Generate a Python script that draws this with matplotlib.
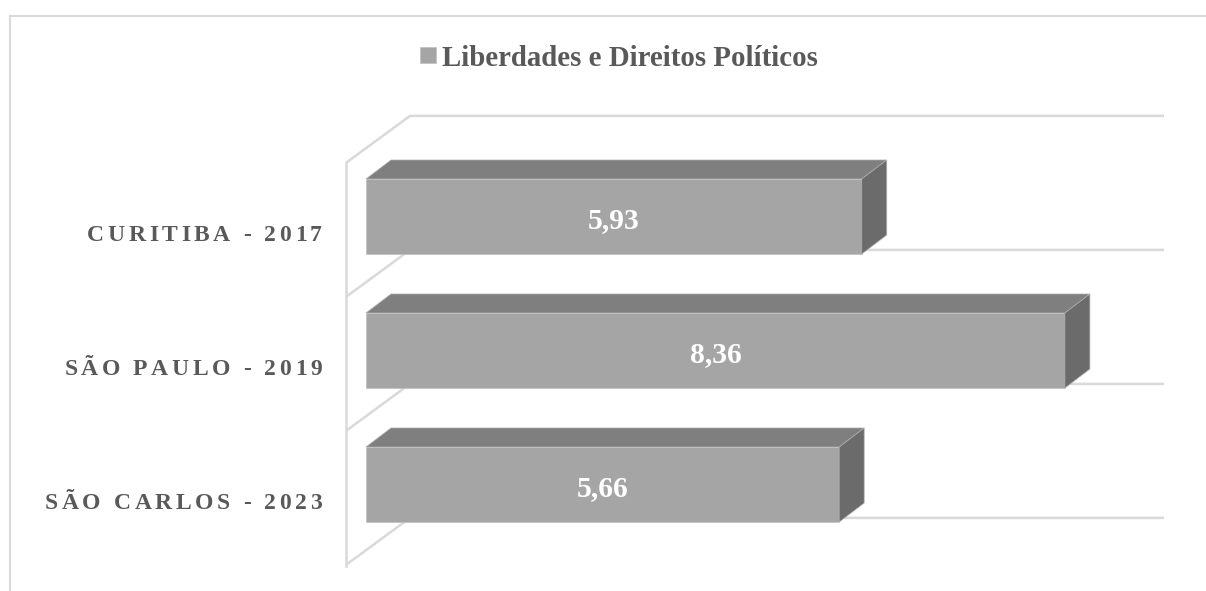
import matplotlib
matplotlib.use('Agg')
import matplotlib.pyplot as plt
from matplotlib.patches import Polygon
from matplotlib.lines import Line2D
from matplotlib.font_manager import FontProperties

# ---- data ----
categories = ['CURITIBA - 2017', 'SÃO PAULO - 2019', 'SÃO CARLOS - 2023']
values = [5.93, 8.36, 5.66]
value_labels = ['5,93', '8,36', '5,66']
series_name = 'Liberdades e Direitos Políticos'

# ---- geometry / style ----
W, H, DPI = 1206, 591, 100
PX_X = 83.6      # pixels per value unit
PX_Y = 134.0     # pixels per category step
X0, Y0 = 366.0, 216.5   # pixel of value 0 / first category centre
BAR_H = 0.56
BAR_DX, BAR_DY = 25 / PX_X, -19 / PX_Y
WALL_DX, WALL_DY = 64 / PX_X, -47 / PX_Y
WALL_FRONT_X = (346 - X0) / PX_X
GRID_END_X = (1164 - X0) / PX_X
FRONT_C, TOP_C, SIDE_C = '#A5A5A5', '#7F7F7F', '#6B6B6B'
GRID_C = '#D9D9D9'
TXT_C = '#595959'
SERIF = ['Liberation Serif', 'DejaVu Serif']

fig = plt.figure(figsize=(W / DPI, H / DPI), dpi=DPI)
ax = fig.add_axes([0, 0, 1, 1])
ax.set_xlim(-X0 / PX_X, (W - X0) / PX_X)
ax.set_ylim((H - Y0) / PX_Y, -Y0 / PX_Y)
ax.axis('off')

# outer frame
fx, fy = 9.5 / W, 1 - 15.5 / H
fig.add_artist(Line2D([fx, fx], [0, fy], color=GRID_C, lw=1.5))
fig.add_artist(Line2D([fx, 1], [fy, fy], color=GRID_C, lw=1.5))

# walls / gridlines
n = len(categories)
bounds = [k - 0.4 for k in range(n + 1)]
for b in bounds:
    bx, by = WALL_FRONT_X + WALL_DX, b + WALL_DY
    ax.plot([WALL_FRONT_X, bx, GRID_END_X], [b, by, by], color=GRID_C, lw=1.8,
            zorder=1, solid_capstyle='butt')
ax.plot([WALL_FRONT_X, WALL_FRONT_X], [bounds[0], bounds[-1] + 0.01], color=GRID_C,
        lw=1.8, zorder=1)

# bars with 3D faces
ypos = list(range(n))
ax.barh(ypos, values, height=BAR_H, color=FRONT_C, zorder=3, label=series_name,
        edgecolor='#C0C0C0', linewidth=0.5)
for y, v in zip(ypos, values):
    top = [(0, y - BAR_H / 2), (v, y - BAR_H / 2),
           (v + BAR_DX, y - BAR_H / 2 + BAR_DY), (BAR_DX, y - BAR_H / 2 + BAR_DY)]
    side = [(v, y - BAR_H / 2), (v + BAR_DX, y - BAR_H / 2 + BAR_DY),
            (v + BAR_DX, y + BAR_H / 2 + BAR_DY), (v, y + BAR_H / 2)]
    ax.add_patch(Polygon(top, closed=True, facecolor=TOP_C, edgecolor='#B0B0B0',
                         lw=0.5, zorder=3))
    ax.add_patch(Polygon(side, closed=True, facecolor=SIDE_C, edgecolor='#B0B0B0',
                         lw=0.5, zorder=3))

# value labels
for y, v, lab in zip(ypos, values, value_labels):
    ax.text(v / 2, y + 1 / PX_Y, lab, ha='center', va='center_baseline', color='white',
            fontsize=21.3, fontweight='bold', family=SERIF, zorder=5)

# category labels with letter spacing
fig.canvas.draw()
r = fig.canvas.get_renderer()
fp = FontProperties(family=SERIF, weight='bold', size=17)
w0 = r.get_text_width_height_descent('HH', fp, ismath=False)[0]

def adv(ch):
    return r.get_text_width_height_descent('H' + ch + 'H', fp, ismath=False)[0] - w0

SPACING = 3.6
LABEL_RIGHT = 322.0
BASE_OFF = (240.5 - Y0) / PX_Y
for y, lab in zip(ypos, categories):
    advs = [adv(c) for c in lab]
    total = sum(advs) + SPACING * (len(lab) - 1)
    x = LABEL_RIGHT - total
    for c, a in zip(lab, advs):
        if c != ' ':
            ax.text((x - X0) / PX_X, y + BASE_OFF, c, ha='left', va='baseline',
                    color=TXT_C, fontproperties=fp, zorder=5)
        x += a + SPACING

# legend used as title
leg = fig.legend(loc='center', bbox_to_anchor=(619 / W, 1 - 58 / H), frameon=False,
                 handlelength=0.55, handleheight=0.5, handletextpad=0.2,
                 prop=FontProperties(family=SERIF, weight='bold', size=20.8),
                 labelcolor=TXT_C)

fig.savefig('out.png', dpi=DPI)
